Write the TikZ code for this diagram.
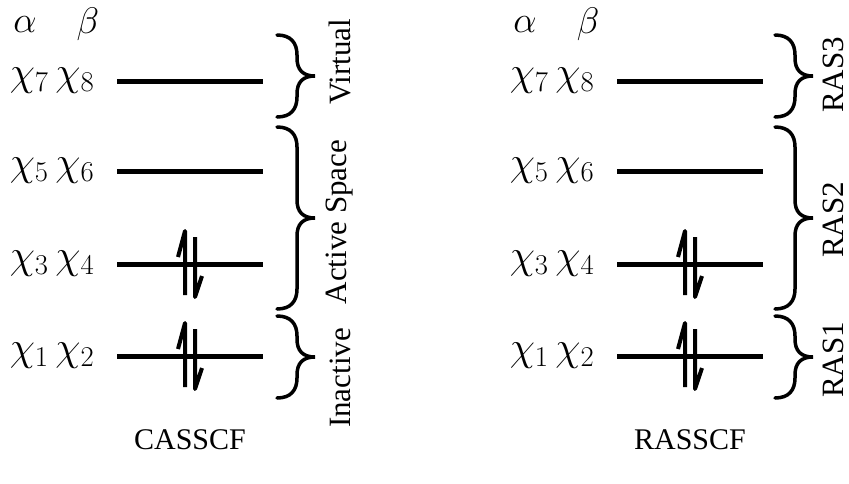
\documentclass[tikz,border=0pt]{standalone}
\usepackage{fix-cm}
\usepackage{fontspec}
\setmainfont{Liberation Serif}
\usetikzlibrary{calc}

\def\cas{CASSCF}
\def\ras{RASSCF}

\tikzset{
  level/.style={line width=5pt},
  spin/.style={line width=4pt, line join=round},
  curl/.style={line width=3.5pt, line cap=round},
  tag/.style={font=\fontsize{30}{36}\selectfont, inner sep=0pt},
  orb/.style={font=\fontsize{41}{48}\selectfont, inner sep=0pt},
  spinlab/.style={font=\fontsize{37}{44}\selectfont, inner sep=0pt},
  side/.style={font=\fontsize{31}{36}\selectfont, inner sep=0pt, rotate=90},
}

% curly brace: left x, top y, bottom y
\newcommand\curly[3]{%
  \pgfmathsetmacro\cym{(#2+#3)/2}
  \draw[curl] (#1,#2) .. controls +(14,0) and +(0,-12) .. (#1+20,#2+20)
    -- (#1+20,\cym-18) .. controls +(0,12) and +(-12,0) .. (#1+38,\cym)
    .. controls +(-12,0) and +(0,-12) .. (#1+20,\cym+18)
    -- (#1+20,#3-20) .. controls +(0,12) and +(14,0) .. (#1,#3);
}

% paired electrons on a level, centred at a coordinate
\newcommand\spinpair[1]{%
  \draw[spin] ($(#1)+(-12,-7)$) -- ($(#1)+(-5,-33)$) -- ($(#1)+(-5,31)$);
  \draw[spin] ($(#1)+(5,-27)$) -- ($(#1)+(5,33)$) -- ($(#1)+(12,12)$);
}

\begin{document}
\begin{tikzpicture}[x=1pt, y=-1pt]
  \useasboundingbox (0,0) rectangle (849,483);

  \foreach \p/\dx in {cas/0, ras/500} {
    \node[spinlab] (\p-alpha) at (25+\dx,25) {$\alpha$};
    \node[spinlab] (\p-beta) at (88+\dx,24) {$\beta$};
    \foreach \i/\y/\a/\b in {1/356/1/2, 2/264/3/4, 3/171/5/6, 4/81/7/8} {
      \coordinate (\p-\i-w) at (117+\dx,\y);
      \coordinate (\p-\i-e) at (263+\dx,\y);
      \coordinate (\p-\i-m) at (190+\dx,\y);
      \draw[level] (\p-\i-w) -- (\p-\i-e);
      \node[orb] (\p-\i-lab) at (52+\dx,\y) {$\chi_{\a}\,\chi_{\b}$};
    }
    \spinpair{\p-1-m}
    \spinpair{\p-2-m}
  }

  % CASSCF partition
  \curly{277}{35}{117}
  \curly{277}{127}{309}
  \curly{277}{316}{398}
  \node[side] (virt) at (340,62) {Virtual};
  \node[side] (act) at (340,222) {Active Space};
  \node[side] (inact) at (340,378) {Inactive};
  \node[tag] (castitle) at (190,440) {\cas};

  % RASSCF partition
  \curly{775}{35}{117}
  \curly{775}{127}{309}
  \curly{775}{316}{398}
  \node[side] (ras3) at (833,75) {RAS3};
  \node[side] (ras2) at (833,220) {RAS2};
  \node[side] (ras1) at (833,360) {RAS1};
  \node[tag] (rastitle) at (690,440) {\ras};
\end{tikzpicture}
\end{document}
